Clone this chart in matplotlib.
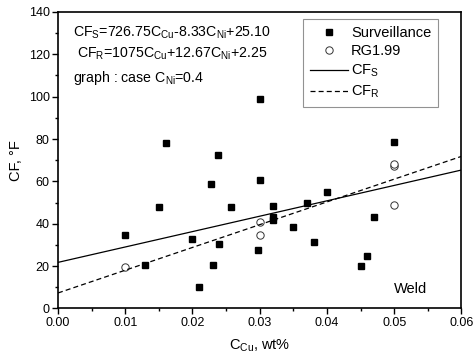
import matplotlib
matplotlib.use("Agg")
import matplotlib.pyplot as plt
from matplotlib.ticker import MultipleLocator, FormatStrFormatter

plt.rcParams['font.family'] = ['Liberation Sans', 'DejaVu Sans']
plt.rcParams['mathtext.fontset'] = 'custom'
plt.rcParams['mathtext.rm'] = 'Liberation Sans'
plt.rcParams['mathtext.it'] = 'Liberation Sans'

# Surveillance data (C_Cu wt%, CF degF)
surv_cu = [0.010, 0.013, 0.015, 0.016, 0.020, 0.021, 0.0228, 0.023, 0.0238, 0.024,
           0.0257, 0.030, 0.030, 0.0298, 0.032, 0.032, 0.032, 0.035, 0.037, 0.038,
           0.040, 0.045, 0.046, 0.047, 0.050]
surv_cf = [34.6, 20.7, 47.8, 78.0, 32.7, 10.0, 58.6, 20.7, 72.3, 30.6,
           47.8, 98.9, 60.7, 27.5, 48.4, 43.4, 42.0, 38.3, 49.7, 31.3,
           54.9, 20.2, 24.8, 43.3, 78.5]

# RG1.99 predictions
rg_cu = [0.010, 0.030, 0.030, 0.050, 0.050, 0.050]
rg_cf = [19.7, 40.7, 34.8, 48.9, 67.4, 68.3]

# fitted lines (case C_Ni = 0.4), end points
line_cu = [0.0, 0.06]
cfs_line = [21.77, 65.37]
cfr_line = [7.32, 71.82]

fig = plt.figure(figsize=(4.73, 3.59), dpi=100)
ax = fig.add_axes([0.1226, 0.1407, 0.853, 0.826])

ax.plot(surv_cu, surv_cf, 's', color='black', markersize=4.3, label='Surveillance')
ax.plot(rg_cu, rg_cf, 'o', markerfacecolor='white', markeredgecolor='#333333',
        markeredgewidth=0.7, markersize=5.3, label='RG1.99')
ax.plot(line_cu, cfs_line, '-', color='black', linewidth=0.9, label=r'CF$_\mathregular{S}$')
ax.plot(line_cu, cfr_line, '--', color='black', linewidth=0.9, dashes=(4, 2.5),
        label=r'CF$_\mathregular{R}$')

ax.set_xlim(0, 0.06)
ax.set_ylim(0, 140)
ax.xaxis.set_major_locator(MultipleLocator(0.01))
ax.xaxis.set_minor_locator(MultipleLocator(0.005))
ax.xaxis.set_major_formatter(FormatStrFormatter('%.2f'))
ax.yaxis.set_major_locator(MultipleLocator(20))
ax.yaxis.set_minor_locator(MultipleLocator(10))
ax.tick_params(which='major', direction='out', length=4, width=1, labelsize=9, pad=2)
ax.tick_params(which='minor', direction='out', length=2.5, width=1)
for s in ax.spines.values():
    s.set_linewidth(1.2)

ax.set_xlabel(r'C$_\mathregular{Cu}$, wt%', fontsize=10.5, labelpad=6)
ax.set_ylabel('CF, °F', fontsize=10.5, labelpad=4)

leg = ax.legend(loc='upper right', fontsize=10.5, frameon=True, fancybox=False,
                edgecolor='#777777', borderpad=0.45, handlelength=2.6,
                handletextpad=0.25, labelspacing=0.32, borderaxespad=0,
                bbox_to_anchor=(0.942, 0.976))
leg.get_frame().set_linewidth(0.8)

ax.text(0.282, 0.93, r'CF$_\mathregular{S}$=726.75C$_\mathregular{Cu}$-8.33C$_\mathregular{Ni}$+25.10',
        transform=ax.transAxes, ha='center', va='center', fontsize=10.2)
ax.text(0.282, 0.858, r'CF$_\mathregular{R}$=1075C$_\mathregular{Cu}$+12.67C$_\mathregular{Ni}$+2.25',
        transform=ax.transAxes, ha='center', va='center', fontsize=10.2)
ax.text(0.037, 0.778, r'graph : case C$_\mathregular{Ni}$=0.4',
        transform=ax.transAxes, ha='left', va='center', fontsize=10.2)
ax.text(0.833, 0.065, 'Weld', transform=ax.transAxes, ha='left', va='center', fontsize=10.5)

fig.savefig('out.png', dpi=100)
